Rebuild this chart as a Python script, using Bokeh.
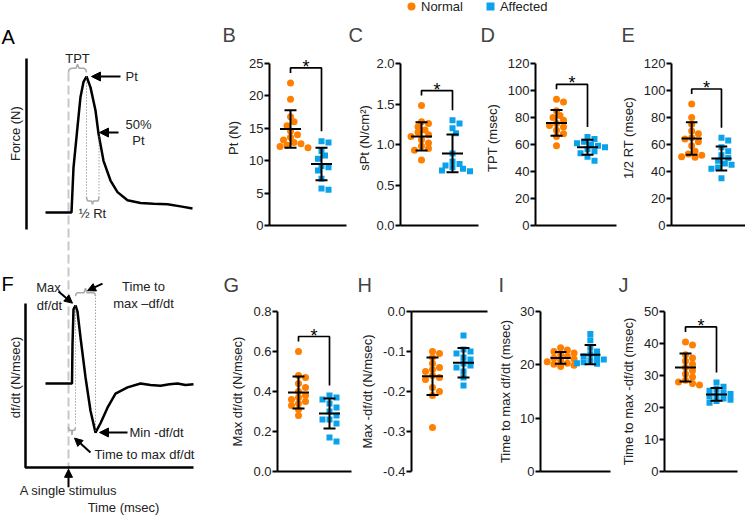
import numpy as np
from bokeh.plotting import figure
from bokeh.models import (Range1d, FixedTicker, PrintfTickFormatter, Arrow, NormalHead,
                          Legend, LegendItem, Spacer)
from bokeh.layouts import row, column
from bokeh.core.properties import value
from bokeh.embed import file_html
from bokeh.resources import INLINE

ORANGE = "#FF8000"
BLUE = "#0AA2EB"
FONT = "Liberation Sans"

groups = ["Normal", "Affected"]

# ---------------- data ----------------
pt_normal = [22.0, 19.5, 16.8, 16.0, 15.4, 14.6, 14.0, 13.6, 13.2, 12.8, 12.6, 12.4, 12.2, 12.0]
pt_affected = [13.0, 12.8, 11.5, 10.8, 10.3, 9.2, 9.0, 8.5, 7.2, 5.7, 5.5]
pt_mean = [14.9, 9.5]
pt_sd = [2.9, 2.5]

spt_normal = [1.48, 1.28, 1.26, 1.22, 1.18, 1.15, 1.12, 1.10, 1.06, 1.02, 0.98, 0.95, 0.93, 0.81]
spt_affected = [1.30, 1.26, 1.20, 1.14, 0.89, 0.79, 0.76, 0.74, 0.72, 0.70, 0.68, 0.67]
spt_mean = [1.10, 0.89]
spt_sd = [0.175, 0.233]

tpt_normal = [93.5, 91.5, 85, 81.5, 80, 78, 75.5, 74, 73, 70.5, 68, 66, 59]
tpt_affected = [65.5, 64, 62, 61, 60, 59, 58, 56.5, 55, 53.5, 51, 48]
tpt_mean = [76.0, 58.0]
tpt_sd = [9.5, 5.5]

hrt_normal = [90, 80, 75, 70, 68, 65, 64, 62, 59, 55, 53, 52, 51, 50.5]
hrt_affected = [65, 63, 58, 55, 52, 50, 48, 46, 45, 43, 42, 35]
hrt_mean = [64.5, 49.6]
hrt_sd = [12.0, 8.9]

maxdf_normal = [0.60, 0.48, 0.47, 0.44, 0.42, 0.40, 0.38, 0.37, 0.36, 0.35, 0.34, 0.33, 0.31, 0.28]
maxdf_affected = [0.38, 0.37, 0.36, 0.34, 0.32, 0.30, 0.28, 0.26, 0.26, 0.24, 0.17, 0.15]
maxdf_mean = [0.395, 0.29]
maxdf_sd = [0.08, 0.075]

mindf_normal = [-0.10, -0.105, -0.115, -0.13, -0.14, -0.145, -0.15, -0.16, -0.165, -0.17, -0.19, -0.20, -0.21, -0.29]
mindf_affected = [-0.06, -0.095, -0.10, -0.105, -0.115, -0.12, -0.13, -0.135, -0.14, -0.15, -0.165, -0.185]
mindf_mean = [-0.162, -0.128]
mindf_sd = [0.047, 0.037]

ttmax_normal = [23.2, 22.8, 22.5, 22.2, 21.9, 21.6, 21.3, 21.1, 20.8, 20.6, 20.3, 20.1, 19.9, 19.7]
ttmax_affected = [25.8, 24.6, 23.2, 22.5, 22.0, 21.6, 21.3, 21.0, 20.8, 20.5, 20.3, 20.2]
ttmax_mean = [21.3, 21.9]
ttmax_sd = [1.1, 1.8]

ttmin_normal = [40.5, 39.5, 36.5, 35.5, 34.5, 33.5, 32.5, 31.5, 30.5, 29.5, 28.5, 28.0, 27.5, 27.0]
ttmin_affected = [27.8, 26.5, 25.8, 25.2, 24.6, 24.2, 23.8, 23.4, 22.8, 22.4, 22.0, 21.5]
ttmin_mean = [32.5, 24.1]
ttmin_sd = [4.4, 2.0]

# schematic traces (time in msec after stimulus, normalised amplitude)
force_t = [-23, 3, 5, 9, 12, 15, 18, 22, 27, 30, 35, 42, 49, 59, 72, 85, 99, 112, 124]
force_v = [0, 0, 0.33, 0.63, 0.85, 0.96, 1.0, 0.92, 0.75, 0.58, 0.38, 0.235, 0.15, 0.09, 0.07, 0.065, 0.06, 0.045, 0.03]
dfdt_t = [-23, 3.5, 4, 5, 7, 9, 12, 17, 22, 27, 32, 39, 47, 59, 72, 82, 92, 101, 109, 117, 125]
dfdt_v = [0, 0, 0.5, 0.95, 1.0, 0.92, 0.59, 0.08, -0.35, -0.63, -0.51, -0.31, -0.13, -0.05, 0.0, -0.02, -0.03, -0.01, 0.0, -0.02, -0.01]
t_peak, t_half = 18, 30
t_dmax, t_dmin = 7, 27


# ---------------- helpers ----------------
def swarm_px(vals, ppu, d=5.5, step=3.5):
    vals = np.asarray(vals, float)
    ys = vals * ppu
    order = np.argsort(-vals, kind="stable")
    placed = []
    off = np.zeros(len(vals))
    for i in order:
        k = 0
        while True:
            c = 0.0 if k == 0 else ((k + 1) // 2) * step * (1 if k % 2 else -1)
            if all((c - px) ** 2 + (ys[i] - py) ** 2 >= d * d for px, py in placed):
                break
            k += 1
        placed.append((c, ys[i]))
        off[i] = c
    return off


PXX = 31.0  # px per x unit in the dot panels


def make_panel(letter, ylabel, ticks, fmt, normal, affected, mean, sd, sig,
               fig_w, left_b, right_b, fig_h, top_b, bottom_b, axis_px, letter_off,
               title_standoff, label_standoff=5, x_above=False):
    frame_w = fig_w - left_b - right_b
    frame_h = fig_h - top_b - bottom_b
    extra_top = frame_h - axis_px
    ymin, ymax = ticks[0], ticks[-1]
    ppu = axis_px / (ymax - ymin)
    x0 = 1 - 21 / PXX
    p = figure(width=fig_w, height=fig_h, x_range=Range1d(x0, x0 + frame_w / PXX),
               y_range=Range1d(ymin, ymax + extra_top / ppu),
               output_backend="svg", toolbar_location=None,
               min_border_left=left_b, min_border_right=right_b,
               min_border_top=top_b, min_border_bottom=bottom_b,
               x_axis_location="above" if x_above else "below", title=letter)
    p.outline_line_color = None
    p.grid.visible = False
    p.title.text_font = FONT
    p.title.text_font_size = "20px"
    p.title.text_font_style = "normal"
    p.title.align = "left"
    p.title.offset = letter_off
    p.title.standoff = title_standoff

    yax = p.yaxis[0]
    yax.ticker = FixedTicker(ticks=ticks, minor_ticks=[])
    yax.formatter = PrintfTickFormatter(format=fmt)
    yax.bounds = (ymin, ymax)
    yax.axis_line_width = 2
    yax.major_tick_out = 5
    yax.major_tick_in = 0
    yax.major_tick_line_width = 2
    yax.minor_tick_line_color = None
    yax.major_label_standoff = 1
    yax.major_label_text_font = FONT
    yax.major_label_text_font_size = "13px"
    yax.major_label_text_color = "#222222"
    yax.axis_label = ylabel
    yax.axis_label_text_font = FONT
    yax.axis_label_text_font_size = "13px"
    yax.axis_label_text_font_style = "normal"
    yax.axis_label_text_color = "#222222"
    yax.axis_label_standoff = label_standoff

    xax = p.xaxis[0]
    xax.ticker = FixedTicker(ticks=[], minor_ticks=[])
    xax.axis_line_width = 2
    xax.major_tick_line_color = None
    xax.minor_tick_line_color = None
    xax.major_label_text_font_size = "0px"

    xn = 1 + swarm_px(normal, ppu) / PXX
    xa = 2 + swarm_px(affected, ppu) / PXX
    p.scatter(xn, normal, marker="circle", size=7, fill_color=ORANGE, line_color=None)
    p.scatter(xa, affected, marker="square", size=6, fill_color=BLUE, line_color=None)

    mh, ch = 10.5 / PXX, 6 / PXX
    sx0, sy0, sx1, sy1 = [], [], [], []
    for gx, m, s in zip([1, 2], mean, sd):
        sx0 += [gx, gx - mh, gx - ch, gx - ch]
        sx1 += [gx, gx + mh, gx + ch, gx + ch]
        sy0 += [m - s, m, m + s, m - s]
        sy1 += [m + s, m, m + s, m - s]
    p.segment(sx0, sy0, sx1, sy1, line_color="black", line_width=2)

    if sig:
        top = max(max(normal), max(affected)) + 15 / ppu
        lb = top - 5 / ppu
        rb = max(affected) + 10 / ppu
        p.line([1, 1, 2, 2], [lb, top, top, rb], line_color="black", line_width=1.7)
        p.text([1.5], [top], text=["*"], text_align="center", text_baseline="alphabetic",
               y_offset=-1, text_font=value(FONT), text_font_size="18px", text_color="black")
    return p


# ---------------- dot panels ----------------
TOP_H, TOP_T, TOP_B, TOP_AX = 238, 38, 25, 162
BOT_H, BOT_T, BOT_B, BOT_AX = 265, 61, 44, 160
TS_TOP, TS_BOT = 10, 32

pB = make_panel("B", "Pt (N)", [0, 5, 10, 15, 20, 25], "%d", pt_normal, pt_affected, pt_mean, pt_sd, True,
                126, 48, 1, TOP_H, TOP_T, TOP_B, TOP_AX, -47, TS_TOP)
pC = make_panel("C", "sPt (N/cm²)", [0, 0.5, 1.0, 1.5, 2.0], "%.1f", spt_normal, spt_affected, spt_mean, spt_sd, True,
                132, 53, 1, TOP_H, TOP_T, TOP_B, TOP_AX, -52, TS_TOP, label_standoff=1)
pD = make_panel("D", "TPT (msec)", [0, 20, 40, 60, 80, 100, 120], "%d", tpt_normal, tpt_affected, tpt_mean, tpt_sd, True,
                138, 56, 1, TOP_H, TOP_T, TOP_B, TOP_AX, -55, TS_TOP)
pE = make_panel("E", "1/2 RT (msec)", [0, 20, 40, 60, 80, 100, 120], "%d", hrt_normal, hrt_affected, hrt_mean, hrt_sd, True,
                128, 51, 0, TOP_H, TOP_T, TOP_B, TOP_AX, -50, TS_TOP)

pG = make_panel("G", "Max df/dt (N/msec)", [0, 0.2, 0.4, 0.6, 0.8], "%.1f", maxdf_normal, maxdf_affected, maxdf_mean, maxdf_sd, True,
                136, 56, 6, BOT_H, BOT_T, BOT_B, BOT_AX, -54, TS_BOT)
pH = make_panel("H", "Max -df/dt (N/msec)", [-0.4, -0.3, -0.2, -0.1, 0.0], "%.1f", mindf_normal, mindf_affected, mindf_mean, mindf_sd, False,
                138, 54, 8, BOT_H, BOT_T, BOT_B, BOT_AX, -54, TS_BOT, x_above=True)
pI = make_panel("I", "Time to max df/dt (msec)", [0, 10, 20, 30], "%d", ttmax_normal, ttmax_affected, ttmax_mean, ttmax_sd, False,
                123, 42, 8, BOT_H, BOT_T, BOT_B, BOT_AX, -42, TS_BOT, label_standoff=4)
pJ = make_panel("J", "Time to max -df/dt (msec)", [0, 10, 20, 30, 40, 50], "%d", ttmin_normal, ttmin_affected, ttmin_mean, ttmin_sd, True,
                127, 46, 8, BOT_H, BOT_T, BOT_B, BOT_AX, -46, TS_BOT)

# ---------------- legend strip ----------------
LEG_H = 12
leg = figure(width=344, height=LEG_H, x_range=Range1d(0, 1), y_range=Range1d(0, 1),
             output_backend="svg", toolbar_location=None, min_border=0,
             x_axis_location=None, y_axis_location=None)
leg.outline_line_color = None
leg.grid.visible = False
# keys only: the points sit outside the visible range
r1 = leg.scatter(x=[-9], y=[-9], marker="circle", fill_color=ORANGE, line_color=None)
r2 = leg.scatter(x=[-9], y=[-9], marker="square", fill_color=BLUE, line_color=None)
legend = Legend(items=[LegendItem(label=groups[0], renderers=[r1]),
                       LegendItem(label=groups[1], renderers=[r2])],
                orientation="horizontal", location="left", margin=0, padding=0,
                spacing=17, glyph_width=20, glyph_height=20, label_standoff=0,
                label_height=14, label_text_font=FONT, label_text_font_size="13px",
                label_text_color="#222222",
                border_line_color=None, background_fill_alpha=0)
leg.add_layout(legend)

# ---------------- schematic (A and F) ----------------
S_W, S_H = 221, 515
A_Y0, A_SC = 303.0, 136.0     # force panel: screen px from bottom = A_Y0 + A_SC * F
F_Y0, F_SC = 132.0, 78.0      # df/dt panel
sch = figure(width=S_W, height=S_H, x_range=Range1d(-68, -68 + S_W),
             y_range=Range1d(-F_Y0 / F_SC, (S_H - F_Y0) / F_SC),
             output_backend="svg", toolbar_location=None, min_border=0,
             x_axis_location=None, y_axis_location=None)
sch.extra_y_ranges = {"force": Range1d(-A_Y0 / A_SC, (S_H - A_Y0) / A_SC)}
sch.outline_line_color = None
sch.grid.visible = False


def a2f(F):
    return (A_Y0 + A_SC * F - F_Y0) / F_SC


GRAY = "#A8A8A8"
txt = dict(text_font=value(FONT), text_font_size="13px", text_color="#222222")

# stimulus dashed line through both schematics
sch.line([0, 0], [a2f(1.03), -1.205], line_color="#C8C8C8", line_width=2, line_dash="9 4")

# --- A: force trace
sch.line(force_t, force_v, y_range_name="force", line_color="black", line_width=2.5)
sch.line([-42, -42], [-0.125, 1.132], y_range_name="force", line_color="black", line_width=2.5)
sch.text([-67], [1.287], text=["A"], y_range_name="force", text_align="left", text_baseline="middle",
         text_font=value(FONT), text_font_size="20px", text_color="black")
sch.text([-53], [0.58], text=["Force (N)"], angle=np.pi / 2, y_range_name="force",
         text_align="center", text_baseline="middle", **txt)
# TPT brace
sch.line([0, 0.6, 2.5, 7.5, 9, 10.5, 15.5, 17.4, 18], [1.03, 1.05, 1.06, 1.06, 1.09, 1.06, 1.06, 1.05, 1.03],
         y_range_name="force", line_color=GRAY, line_width=1.5)
sch.text([9], [1.13], text=["TPT"], y_range_name="force", text_align="center", text_baseline="middle", **txt)
# dotted verticals
sch.segment([t_peak, t_half + 0.5], [1.0, 0.56], [t_peak, t_half + 0.5], [0.115, 0.115], y_range_name="force",
            line_color="#777777", line_width=1, line_dash="1 2")
# 1/2 Rt brace
sch.line([t_peak, t_peak + 0.4, t_peak + 1.5, 23, 24, 25, t_half - 0.5, t_half + 0.1, t_half + 0.5],
         [0.115, 0.095, 0.085, 0.085, 0.06, 0.085, 0.085, 0.095, 0.115],
         y_range_name="force", line_color=GRAY, line_width=1.5)
sch.text([24], [-0.005], text=["½ Rt"], y_range_name="force", text_align="center", text_baseline="middle", **txt)
# arrows
sch.add_layout(Arrow(x_start=52, y_start=1.0, x_end=23, y_end=1.0, y_range_name="force", line_width=2,
                     end=NormalHead(size=9, fill_color="black", line_color="black")))
sch.text([57], [1.0], text=["Pt"], y_range_name="force", text_align="left", text_baseline="middle", **txt)
sch.add_layout(Arrow(x_start=50, y_start=0.588, x_end=31, y_end=0.588, y_range_name="force", line_width=2,
                     end=NormalHead(size=9, fill_color="black", line_color="black")))
sch.text([70, 70], [0.65, 0.53], text=["50%", "Pt"], y_range_name="force",
         text_align="center", text_baseline="middle", **txt)

# --- F: df/dt trace
sch.line(dfdt_t, dfdt_v, line_color="black", line_width=2.5)
sch.line([-43, -43, 125], [1.026, -1.077, -1.077], line_color="black", line_width=2.5)
sch.text([-67], [1.282], text=["F"], text_align="left", text_baseline="middle",
         text_font=value(FONT), text_font_size="20px", text_color="black")
sch.text([-53], [0.077], text=["df/dt (N/msec)"], angle=np.pi / 2, text_align="center", text_baseline="middle", **txt)
sch.text([-20, -19], [1.231, 1.0], text=["Max", "df/dt"], text_align="center", text_baseline="middle", **txt)
sch.add_layout(Arrow(x_start=-10, y_start=1.18, x_end=4, y_end=1.03, line_width=2,
                     end=NormalHead(size=8, fill_color="black", line_color="black")))
# top brace
sch.line([t_dmax, t_dmax + 0.5, t_dmax + 2, 15.5, 17, 18.5, t_dmin - 2, t_dmin - 0.5, t_dmin],
         [1.12, 1.15, 1.165, 1.165, 1.22, 1.165, 1.165, 1.15, 1.12], line_color=GRAY, line_width=1.5)
sch.add_layout(Arrow(x_start=34, y_start=1.28, x_end=19, y_end=1.19, line_width=2,
                     end=NormalHead(size=8, fill_color="black", line_color="black")))
sch.text([75, 75], [1.244, 1.026], text=["Time to", "max –df/dt"], text_align="center", text_baseline="middle", **txt)
# dotted verticals
sch.segment([t_dmax, t_dmin], [1.0, 1.10], [t_dmax, t_dmin], [-0.54, -0.62],
            line_color="#777777", line_width=1, line_dash="1 2")
# bottom brace
sch.line([0, 0.4, 1.5, 3, 3.5, 4, 5.5, 6.6, 7], [-0.56, -0.59, -0.6, -0.6, -0.66, -0.6, -0.6, -0.59, -0.56],
         line_color=GRAY, line_width=1.5)
sch.add_layout(Arrow(x_start=22, y_start=-0.885, x_end=6, y_end=-0.70, line_width=2,
                     end=NormalHead(size=8, fill_color="black", line_color="black")))
sch.text([76], [-0.91], text=["Time to max df/dt"], text_align="center", text_baseline="middle", **txt)
sch.add_layout(Arrow(x_start=59, y_start=-0.628, x_end=31, y_end=-0.628, line_width=2,
                     end=NormalHead(size=9, fill_color="black", line_color="black")))
sch.text([61], [-0.628], text=["Min -df/dt"], text_align="left", text_baseline="middle", **txt)
sch.add_layout(Arrow(x_start=0, y_start=-1.33, x_end=0, y_end=-1.10, line_width=2,
                     end=NormalHead(size=8, fill_color="black", line_color="black")))
sch.text([0], [-1.37], text=["A single stimulus"], text_align="center", text_baseline="middle", **txt)
sch.text([55], [-1.59], text=["Time (msec)"], text_align="center", text_baseline="middle", **txt)

# ---------------- layout ----------------
right = column(row(Spacer(width=180, height=LEG_H), leg),
               row(pB, pC, pD, pE),
               row(pG, pH, pI, pJ))
root = row(sch, right)

open("out.html", "w").write(file_html(root, INLINE))
